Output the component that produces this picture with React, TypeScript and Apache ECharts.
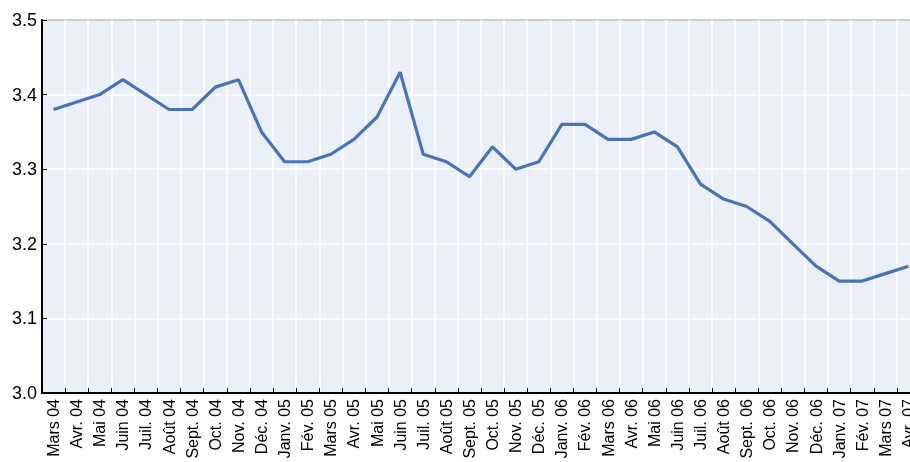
import React, { useEffect, useRef } from "react";
import * as echarts from "echarts";

const categories = [
  "Mars 04", "Avr. 04", "Mai 04", "Juin 04", "Juil. 04", "Août 04", "Sept. 04", "Oct. 04", "Nov. 04", "Déc. 04",
  "Janv. 05", "Fév. 05", "Mars 05", "Avr. 05", "Mai 05", "Juin 05", "Juil. 05", "Août 05", "Sept. 05", "Oct. 05", "Nov. 05", "Déc. 05",
  "Janv. 06", "Fév. 06", "Mars 06", "Avr. 06", "Mai 06", "Juin 06", "Juil. 06", "Août 06", "Sept. 06", "Oct. 06", "Nov. 06", "Déc. 06",
  "Janv. 07", "Fév. 07", "Mars 07", "Avr. 07",
];

const values = [
  3.38, 3.39, 3.40, 3.42, 3.40, 3.38, 3.38, 3.41, 3.42, 3.35,
  3.31, 3.31, 3.32, 3.34, 3.37, 3.43, 3.32, 3.31, 3.29, 3.33, 3.30, 3.31,
  3.36, 3.36, 3.34, 3.34, 3.35, 3.33, 3.28, 3.26, 3.25, 3.23, 3.20, 3.17,
  3.15, 3.15, 3.16, 3.17,
];

const yMin = 3.0;
const yMax = 3.5;
const yInterval = 0.1;

const FONT = "'Liberation Sans Narrow', 'Liberation Sans', Arial, sans-serif";

export default function App() {
  const ref = useRef<HTMLDivElement>(null);
  useEffect(() => {
    if (!ref.current) return;
    const chart = echarts.init(ref.current, undefined, { renderer: "svg" });
    chart.setOption({
      animation: false,
      grid: {
        left: 42,
        right: 0,
        top: 20,
        bottom: 69,
        show: true,
        backgroundColor: "#EBF0F8",
        borderColor: "#000",
        borderWidth: 1.5,
      },
      xAxis: {
        type: "category",
        data: categories,
        boundaryGap: true,
        axisLine: { show: true, lineStyle: { color: "#000", width: 2 } },
        axisTick: { show: true, inside: true, length: 5, lineStyle: { color: "#000", width: 1 } },
        splitLine: { show: true, lineStyle: { color: "#fff", width: 1.5 } },
        axisLabel: {
          rotate: 90,
          interval: 0,
          color: "#000",
          fontSize: 16,
          fontFamily: FONT,
          margin: 6,
        },
      },
      yAxis: {
        type: "value",
        min: yMin,
        max: yMax,
        interval: yInterval,
        axisLine: { show: true, lineStyle: { color: "#000", width: 2 } },
        axisTick: { show: true, inside: true, length: 5, lineStyle: { color: "#000", width: 1 } },
        splitLine: { show: true, lineStyle: { color: "#fff", width: 1.5 } },
        axisLabel: {
          color: "#000",
          fontSize: 18,
          fontFamily: FONT,
          margin: 5,
          formatter: (v: number) => v.toFixed(1),
        },
      },
      series: [
        {
          type: "line",
          data: values,
          symbol: "none",
          lineStyle: { color: "#4A72B8", width: 3.2 },
          z: 5,
        },
      ],
    });
    return () => chart.dispose();
  }, []);
  return (
    <div style={{ position: "fixed", left: 0, top: 0, width: 910, height: 462, overflow: "hidden" }}>
      <div ref={ref} style={{ width: 920, height: 462 }} />
    </div>
  );
}
